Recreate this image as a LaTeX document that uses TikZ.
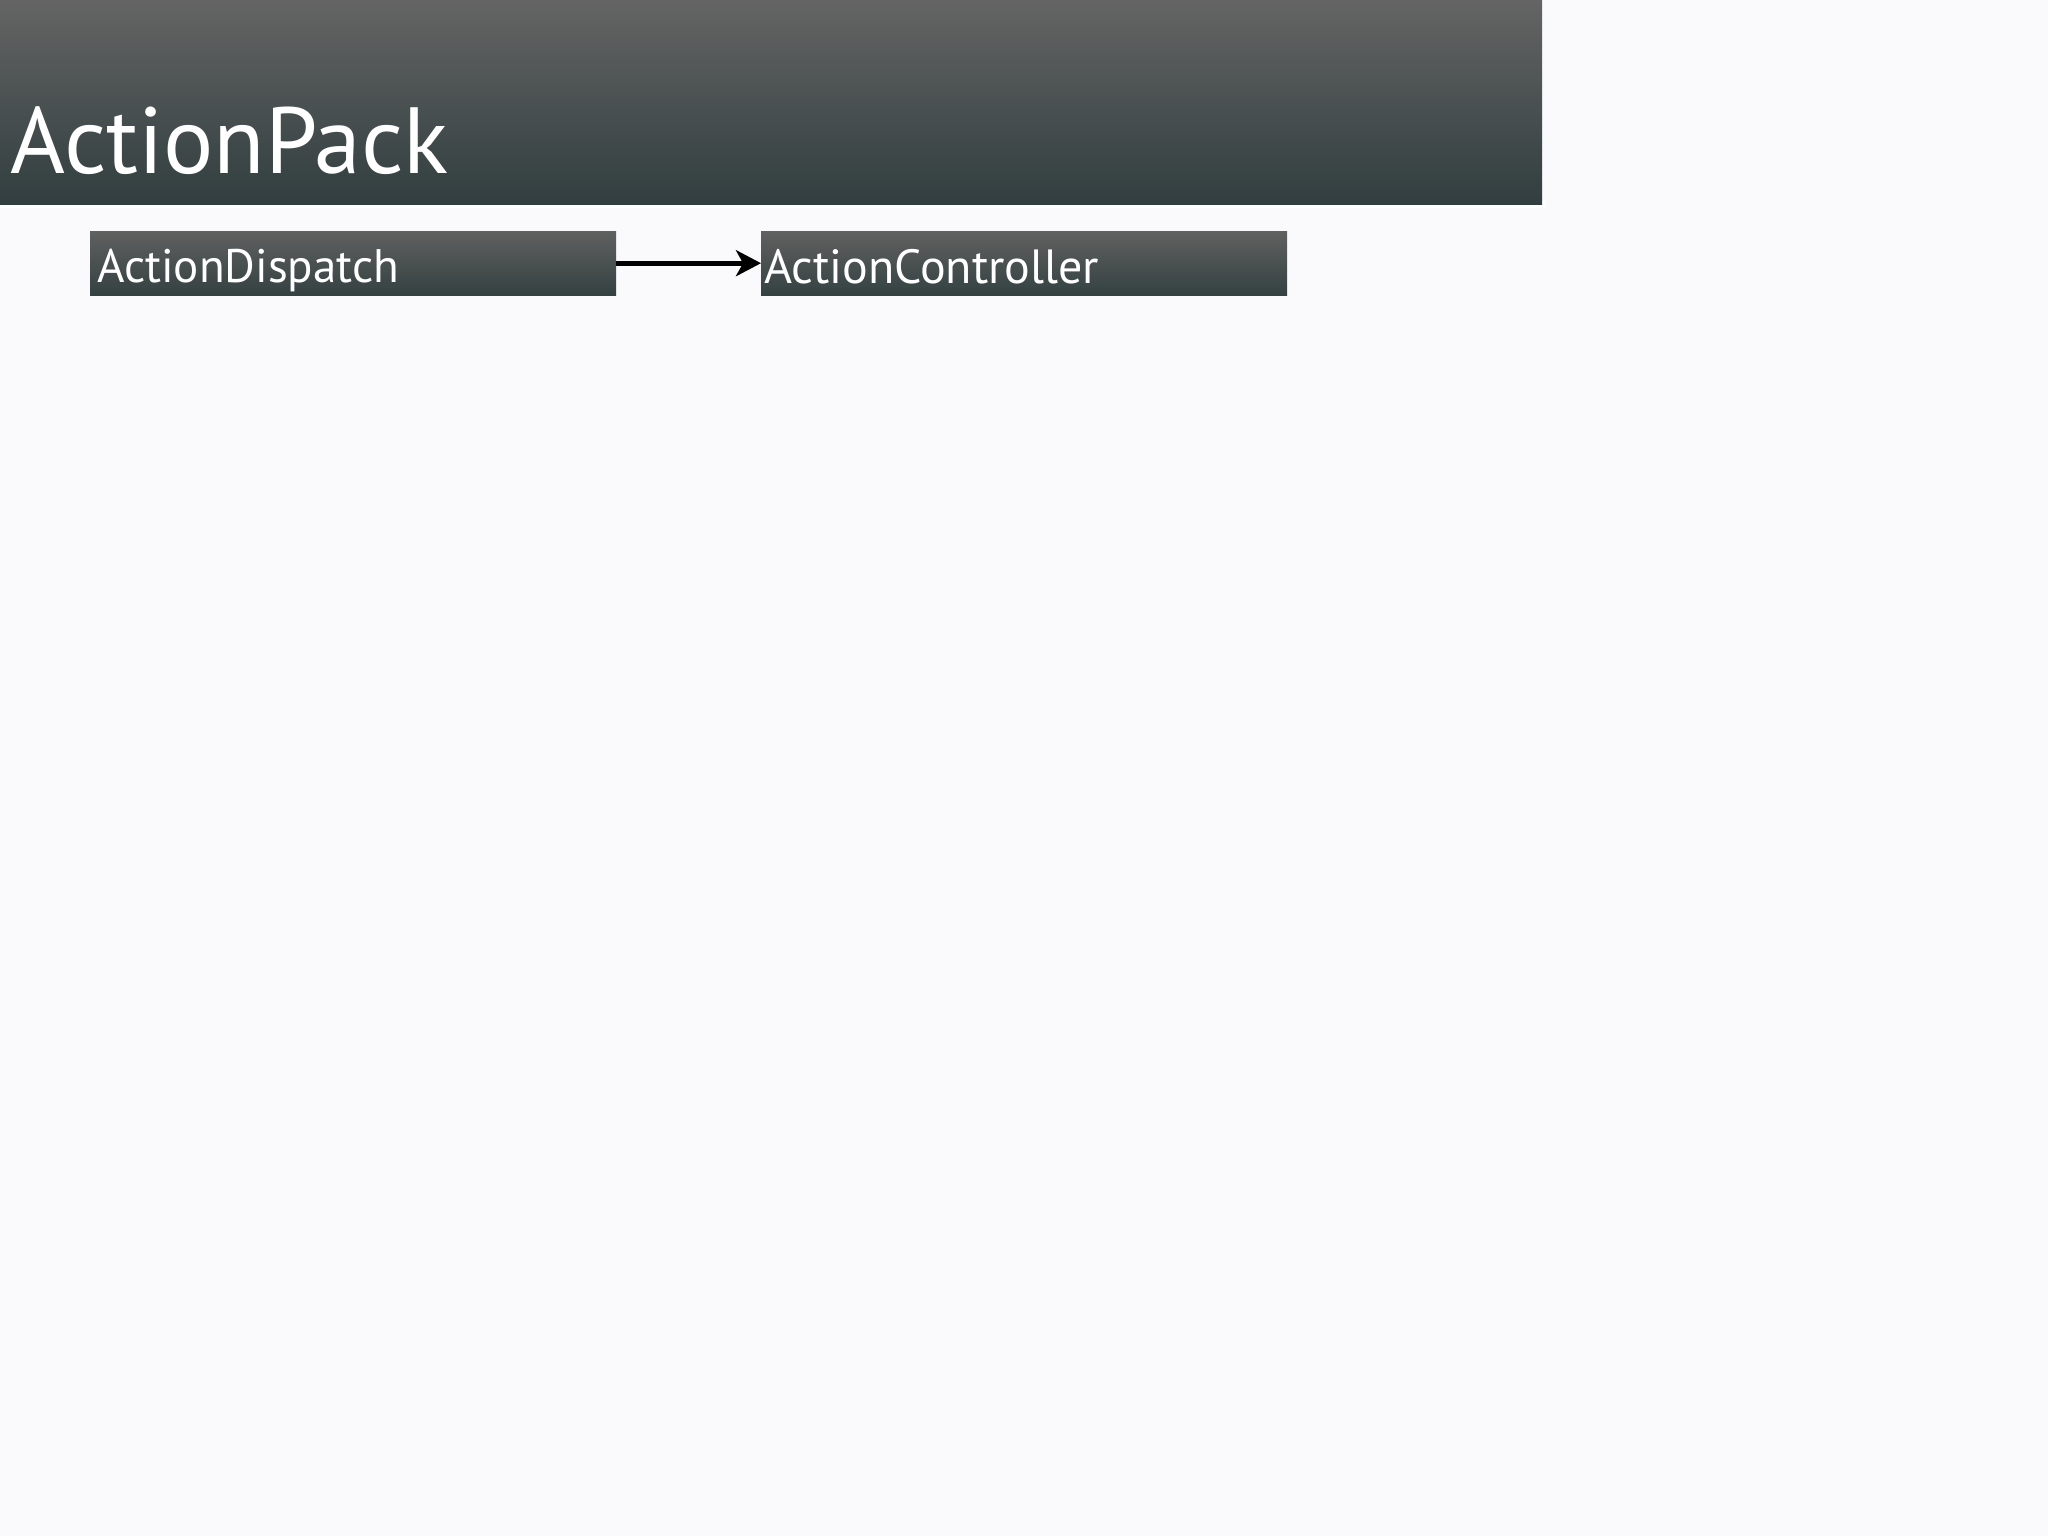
\documentclass[tikz,border=0pt]{standalone}
\usepackage{fontspec}
\setmainfont{PT Sans}
\usetikzlibrary{arrows.meta}
\definecolor{bgc}{HTML}{FAF9FB}
\definecolor{hdtop}{HTML}{646464}
\definecolor{hdbot}{HTML}{313E3F}
\definecolor{bxtop}{HTML}{606060}
\definecolor{bxbot}{HTML}{344141}
\begin{document}
\begin{tikzpicture}[x=1pt,y=-1pt,
  box/.style={draw=none, top color=bxtop, bottom color=bxbot, text=white,
    font=\fontsize{47}{47}\selectfont, text height=39pt, text depth=0pt,
    inner ysep=12.5pt, anchor=north west, align=left},
  flow/.style={line width=5pt, -{Stealth[length=25pt,width=26pt,inset=7pt]}}]
\useasboundingbox (0,0) rectangle (2048,1536);
\fill[bgc] (0,0) rectangle (2048,1536);
\fill[white] (0,200) rectangle (1546,208);
\node[anchor=north west, minimum width=1542pt, minimum height=204pt, inner sep=0pt,
  top color=hdtop, bottom color=hdbot] (header) at (0,0) {};
\node[anchor=base west, inner sep=0pt, text=white, font=\fontsize{94}{94}\selectfont]
  (title) at (10,174) {ActionPack};
\node[box, inner xsep=7pt, text width=512pt] (ad) at (90,231) {ActionDispatch};
\node[box, inner xsep=3pt, text width=520pt, font=\fontsize{48}{48}\selectfont] (ac) at (761,231.5) {ActionController};
\draw[flow] (ad.east) -- (ad.east -| ac.west);
\end{tikzpicture}
\end{document}
